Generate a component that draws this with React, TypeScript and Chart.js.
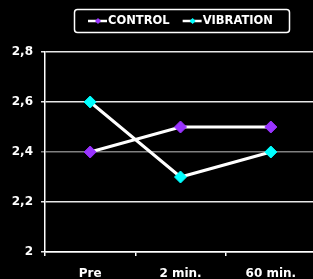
import React, { useEffect, useRef } from "react";
import { Chart, registerables } from "chart.js";

Chart.register(...registerables);

const categories = ["Pre", "2 min.", "60 min."];
const controlValues = [2.4, 2.5, 2.5];
const vibrationValues = [2.6, 2.3, 2.4];
const seriesNames = ["CONTROL", "VIBRATION"];
const seriesColors = ["#9933ff", "#00ffff"];

const FONT = "'DejaVu Sans', Verdana, sans-serif";

const legendPlugin = {
  id: "boxLegend",
  afterDraw(chart: any) {
    const ctx = chart.ctx;
    ctx.save();
    const bx = 74.5, by = 9.5, bw = 215, bh = 23;
    ctx.strokeStyle = "#ffffff";
    ctx.lineWidth = 1.5;
    ctx.beginPath();
    (ctx as any).roundRect(bx, by, bw, bh, 3);
    ctx.stroke();
    const cy = by + bh / 2;
    ctx.font = `bold 11.5px ${FONT}`;
    ctx.textBaseline = "middle";
    ctx.textAlign = "left";
    let x = 88;
    chart.data.datasets.forEach((ds: any) => {
      ctx.strokeStyle = "#ffffff";
      ctx.lineWidth = 2.5;
      ctx.beginPath();
      ctx.moveTo(x, cy);
      ctx.lineTo(x + 19, cy);
      ctx.stroke();
      ctx.fillStyle = ds.pointBackgroundColor;
      ctx.beginPath();
      const r = 3;
      const mx = x + 10;
      ctx.moveTo(mx, cy - r);
      ctx.lineTo(mx + r, cy);
      ctx.lineTo(mx, cy + r);
      ctx.lineTo(mx - r, cy);
      ctx.closePath();
      ctx.fill();
      ctx.fillStyle = "#ffffff";
      ctx.fillText(ds.label, x + 20, cy + 0.5);
      const w = ctx.measureText(ds.label).width;
      x = x + 20 + w + 13;
    });
    ctx.restore();
  },
};

export default function App() {
  const ref = useRef<HTMLCanvasElement>(null);
  useEffect(() => {
    document.body.style.margin = "0";
    document.body.style.background = "#000";
    const chart = new Chart(ref.current!, {
      type: "line",
      data: {
        labels: categories,
        datasets: [
          {
            label: seriesNames[0],
            data: controlValues,
            borderColor: "#ffffff",
            borderWidth: 3,
            pointStyle: "rectRot",
            pointRadius: 6,
            pointBackgroundColor: seriesColors[0],
            pointBorderColor: seriesColors[0],
            pointBorderWidth: 1,
          },
          {
            label: seriesNames[1],
            data: vibrationValues,
            borderColor: "#ffffff",
            borderWidth: 3,
            pointStyle: "rectRot",
            pointRadius: 6,
            pointBackgroundColor: seriesColors[1],
            pointBorderColor: seriesColors[1],
            pointBorderWidth: 1,
          },
        ],
      },
      options: {
        responsive: false,
        animation: false,
        layout: { padding: { left: 0, top: 52, right: 2, bottom: 0 } },
        plugins: { legend: { display: false }, tooltip: { enabled: false } },
        scales: {
          x: {
            type: "category",
            offset: true,
            afterFit: (s: any) => {
              s.height = 27;
              s.paddingLeft = 0;
              s.paddingRight = 0;
            },
            grid: {
              offset: true,
              drawOnChartArea: false,
              drawTicks: true,
              tickLength: 4,
              color: "#ffffff",
              lineWidth: 1.5,
            },
            border: { color: "#ffffff", width: 1.5 },
            ticks: {
              color: "#ffffff",
              padding: 11,
              font: { family: FONT, size: 12, weight: "bold" },
              maxRotation: 0,
            },
          },
          y: {
            min: 2,
            max: 2.8,
            afterFit: (s: any) => {
              s.width = 45;
              s.paddingTop = 0;
              s.paddingBottom = 0;
            },
            ticks: {
              stepSize: 0.2,
              color: "#ffffff",
              padding: 8,
              font: { family: FONT, size: 12, weight: "bold" },
              callback: (v: any) => {
                const n = Number(v);
                return Number.isInteger(n) ? String(n) : n.toFixed(1).replace(".", ",");
              },
            },
            grid: {
              color: (c: any) =>
                c.tick && Math.abs(c.tick.value - 2.4) < 1e-6 ? "#808080" : "#e8e8e8",
              lineWidth: 1.5,
              tickLength: 4,
            },
            border: { color: "#ffffff", width: 1.5 },
          },
        },
      },
      plugins: [legendPlugin],
    });
    return () => chart.destroy();
  }, []);
  return (
    <div style={{ width: 313, height: 279, background: "#000", overflow: "hidden" }}>
      <canvas ref={ref} width={323} height={279} style={{ width: 323, height: 279 }} />
    </div>
  );
}
